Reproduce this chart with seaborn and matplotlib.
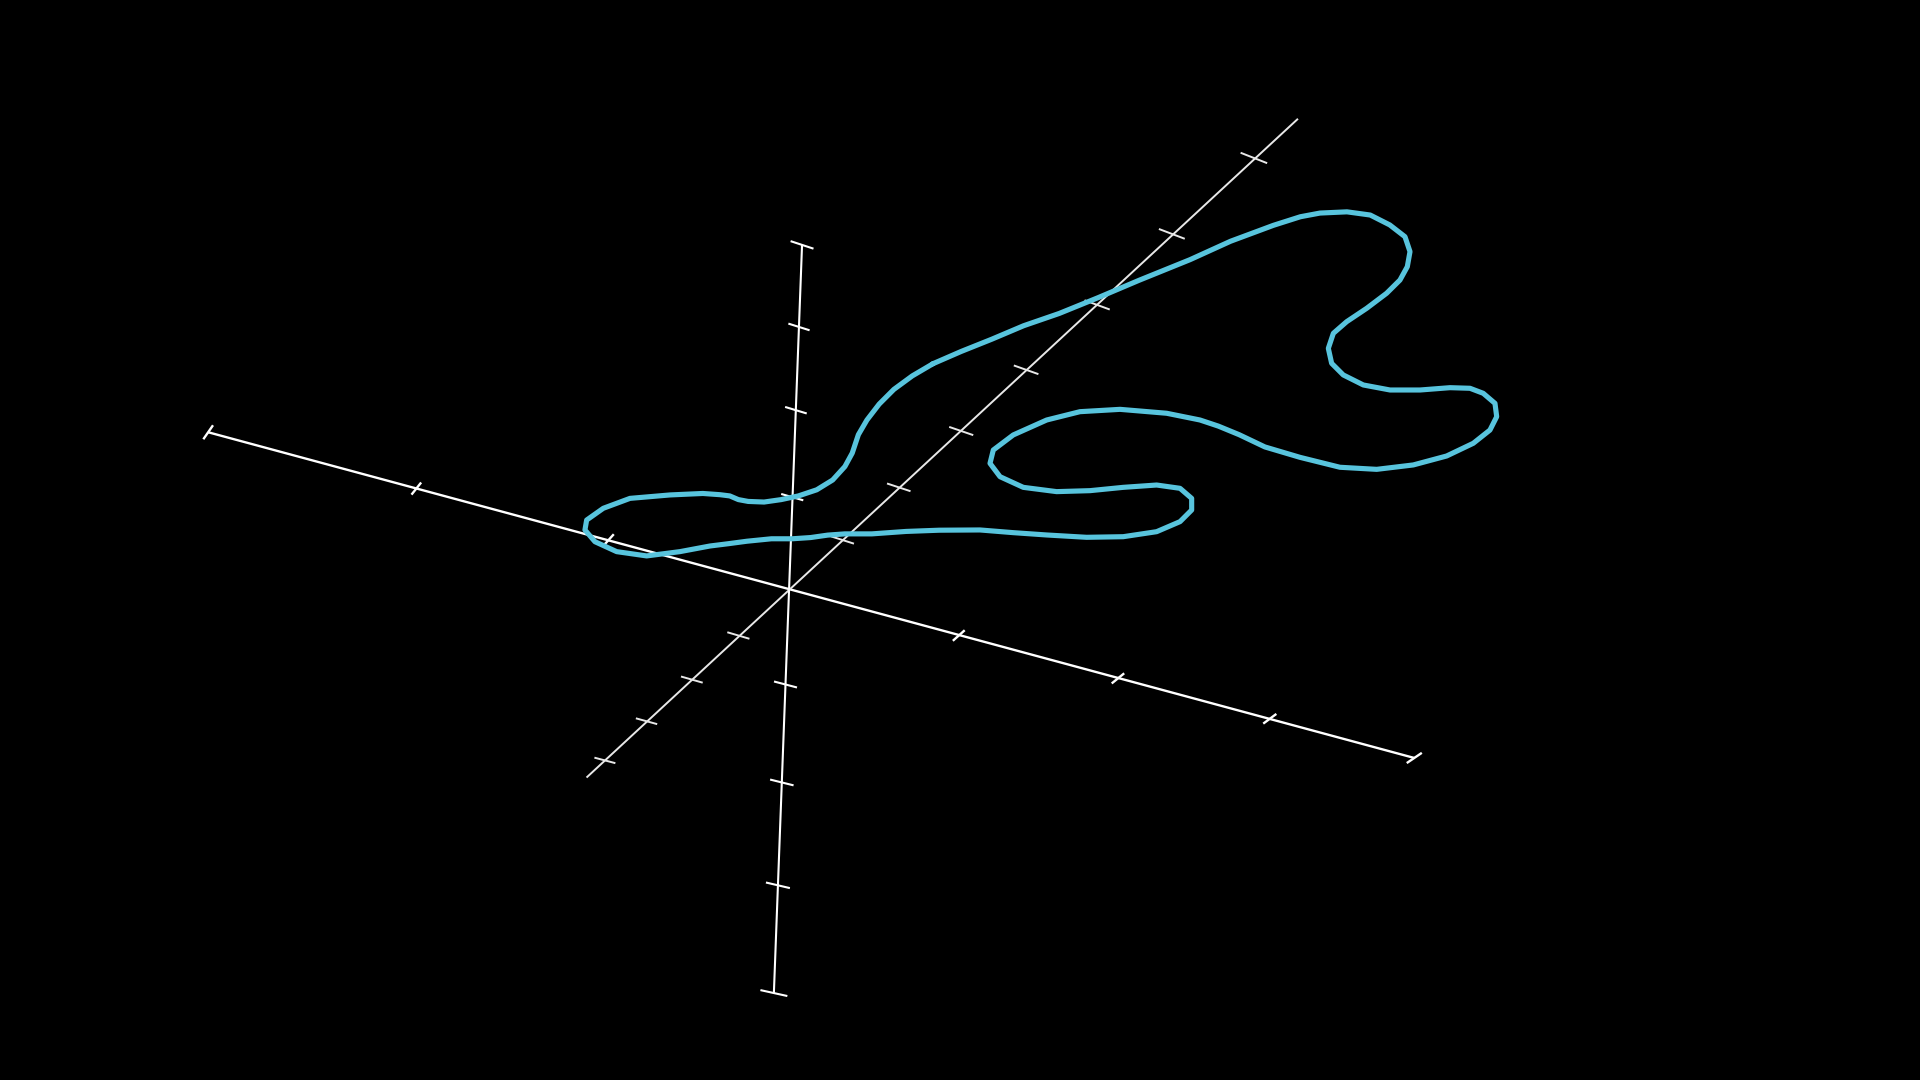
import numpy as np
import pandas as pd
import matplotlib
matplotlib.use("Agg")
import matplotlib.pyplot as plt
import seaborn as sns

# picture units: 1568 x 882 canvas, y grows downward
curve_x = [762, 785, 810, 836, 865, 897, 930, 972, 1005, 1040, 1062, 1078, 1100, 1119, 1135,
           1147.4, 1151.5, 1149.3, 1143.3, 1132.4, 1116.1, 1099.8, 1088.9, 1084.8, 1087.5, 1097,
           1113.4, 1135.2, 1159.7, 1184.2, 1200.5, 1211.3, 1220.9, 1222.3, 1216.8, 1203.2,
           1181.4, 1154.2, 1124.3, 1094.3, 1061.7, 1033, 1012, 995, 980, 952.8, 914.7, 882,
           854.8, 827.5, 811.2, 808.5, 816.7, 835.7, 862.9, 890.2, 917.3, 944.6, 963.7, 973.2,
           973.2, 963.7, 944.6, 917.3, 887.4, 854.8, 827.5, 800.3, 767, 740, 712, 690, 676, 662,
           647, 630, 610, 595, 579.8, 555.3, 528.1, 503.6, 485.9, 477.7, 479.1, 492.7, 514.5,
           547.2, 574, 588, 596, 603, 611, 624, 638, 652, 667, 680, 690, 696, 701, 708, 718, 730,
           745, 762]
curve_y = [297, 287, 277, 266, 256, 243, 229, 212, 197, 184, 177, 174, 173, 175.6, 183.7,
           193.3, 205.5, 217.8, 228.7, 239.5, 251.8, 262.7, 272.2, 284.5, 296.7, 306.2,
           314.4, 318.5, 318.5, 316.6, 317.1, 321.2, 329.4, 340.3, 351.2, 362,
           372.4, 379.7, 383.3, 381.6, 373.5, 365, 355, 348, 343, 337.5, 334.3, 336.2,
           343, 355.2, 367.5, 378.4, 389.3, 398, 401.5, 400.7, 398, 396.1, 398.8, 407,
           416.5, 426, 434.2, 438.3, 438.8, 436.9, 435, 432.8, 433, 434, 436, 436, 437, 439,
           440, 440, 442, 444, 445.9, 450.5, 454, 450.5, 442.4, 432.8, 424.7, 415.1, 407,
           404.2, 403, 404, 405, 408, 409.5, 410, 408, 405, 400, 392, 381, 370, 355, 343, 330, 318,
           307, 297]

# three axes: end points and tick marks
axis_a_ends = [(170, 353), (1155, 619)]
axis_a_ticks_x = [340, 497, 783, 913, 1037]
axis_a_ticks_y = [399, 441, 519, 554, 587]

axis_b_ends = [(479, 635), (1060, 97)]
axis_b_ticks_x = [494, 528, 565, 603, 688, 734, 785, 838, 896, 957, 1024]
axis_b_ticks_y = [621, 589, 555, 519, 441, 398, 352, 302, 249, 191, 129]

axis_c_ends = [(655, 200), (632, 811)]
axis_c_ticks_x = [652.5, 650, 647, 641.5, 638.5, 635.3]
axis_c_ticks_y = [267, 335, 406, 559, 639, 723]

W, H = 1568, 882

sns.set_style("dark")
fig = plt.figure(figsize=(19.2, 10.8), dpi=100, facecolor="black")
ax = fig.add_axes([0, 0, 1, 1])
ax.set_facecolor("black")


def draw_axis(ends, tx, ty, half0, half1, lw, caps, color="white"):
    (x0, y0), (x1, y1) = ends
    ax.plot([x0, x1], [y0, y1], color=color, lw=lw, solid_capstyle="butt", zorder=2)
    half0 = np.array(half0, float)
    half1 = np.array(half1, float)
    span = x1 - x0

    def mark(cx, cy, scale=1.0):
        t = (cx - x0) / span
        h = (half0 + (half1 - half0) * t) * scale
        ax.plot([cx - h[0], cx + h[0]], [cy - h[1], cy + h[1]], color=color, lw=lw,
                solid_capstyle="butt", zorder=2)

    for cx, cy in zip(tx, ty):
        mark(cx, cy)
    if caps:
        mark(x0, y0, 1.1)
        mark(x1, y1, 1.1)


draw_axis(axis_a_ends, axis_a_ticks_x, axis_a_ticks_y, (3.6, -5.2), (5.6, -3.8), 1.7, True)
draw_axis(axis_b_ends, axis_b_ticks_x, axis_b_ticks_y, (8.5, 2.2), (11, 4.4), 1.4, False,
          color="#e8e8e8")
draw_axis(axis_c_ends, axis_c_ticks_x, axis_c_ticks_y, (8.5, 2.8), (10, 2.2), 1.5, True)

curve = pd.DataFrame({"x": curve_x, "y": curve_y})
sns.lineplot(data=curve, x="x", y="y", sort=False, estimator=None, color="#58C4DD",
             lw=3.7, ax=ax, zorder=3, solid_joinstyle="round", solid_capstyle="round")

ax.set_xlim(0, W)
ax.set_ylim(H, 0)
ax.axis("off")

fig.savefig("out.png", dpi=100, facecolor="black")
